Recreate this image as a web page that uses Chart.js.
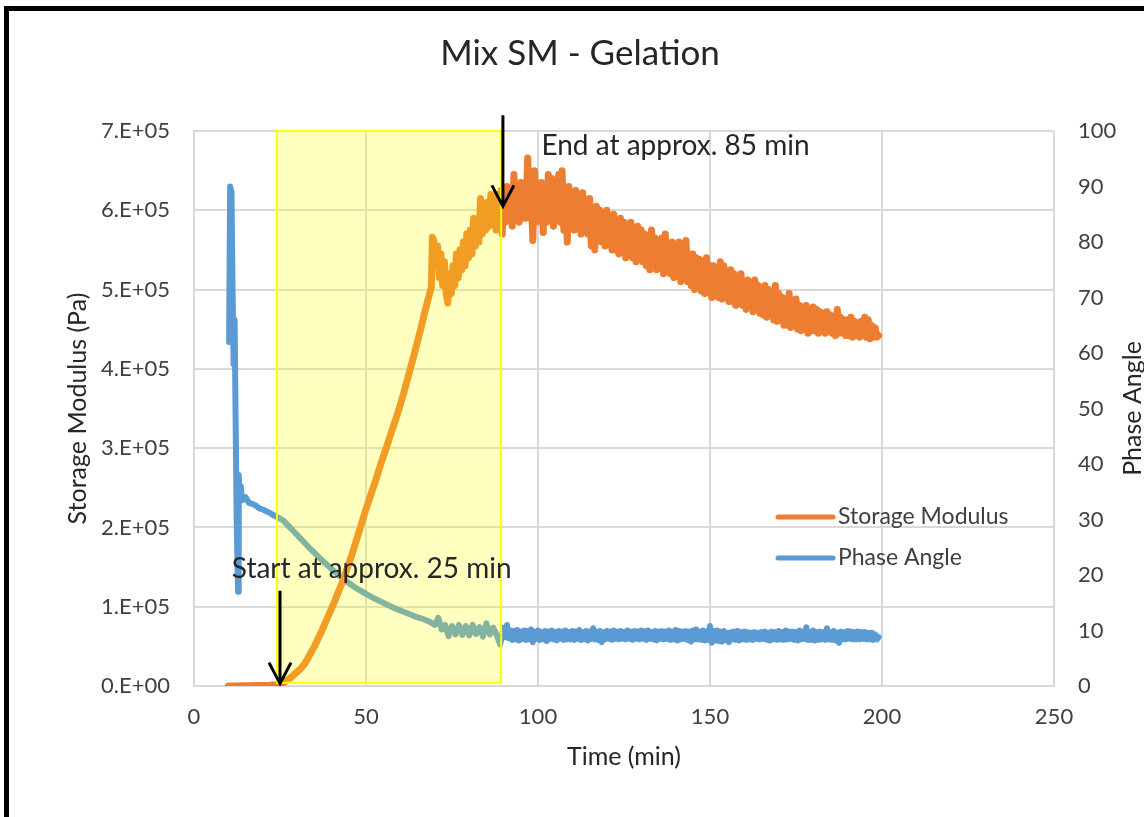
<!DOCTYPE html>
<html>
<head>
<meta charset="utf-8">
<title>Mix SM - Gelation</title>
<script src="https://cdn.jsdelivr.net/npm/chart.js@4.4.1/dist/chart.umd.min.js"></script>
<style>
  html, body { margin: 0; padding: 0; background: #fff; }
  #wrap { position: relative; width: 1144px; height: 817px; overflow: hidden; }
  #frame { position: absolute; left: 4px; top: 6px; right: -20px; bottom: -20px;
           border-left: 5px solid #000; border-top: 5px solid #000; }
  #chart { position: absolute; left: 0; top: 0; }
</style>
</head>
<body>
<div id="wrap">
  <div id="frame"></div>
  <canvas id="chart" width="1144" height="817"></canvas>
</div>
<script>
// storage modulus up to the end of gelation, time in min, value in units of 1e5 Pa
const modHeadTime = [
  10, 12, 14, 16, 18, 20, 22, 24, 25, 26, 27, 28, 29, 30, 31, 32, 33, 34, 35, 36,
  37, 38, 39, 40, 41, 42, 43, 44, 45, 46, 47, 48, 49, 50, 51, 52, 53, 54, 55, 56,
  57, 58, 59, 60, 61, 62, 63, 64, 65, 66, 67, 68, 69,
  69.3, 69.8, 70.3, 70.8, 71.3, 71.8, 72.3, 72.8, 73.3, 73.8, 74.3, 74.8, 75.3, 75.8,
  76.3, 76.8, 77.3, 77.8, 78.3, 78.8, 79.3, 79.8, 80.3, 80.8, 81.3, 81.8, 82.3, 82.8,
  83.3, 83.8, 84.3, 84.8, 85.3, 85.8, 86.3, 86.8, 87.3, 87.8, 88.3, 88.8, 89.3, 89.6
];
const modHeadValue = [
  0, 0, 0.002, 0.003, 0.005, 0.007, 0.01, 0.015, 0.02, 0.04, 0.07, 0.1, 0.14, 0.18, 0.22, 0.27, 0.34, 0.42, 0.5, 0.59,
  0.68, 0.78, 0.88, 0.98, 1.08, 1.19, 1.3, 1.42, 1.54, 1.67, 1.81, 1.95, 2.09, 2.23, 2.36, 2.49, 2.62, 2.76, 2.89, 3.02,
  3.15, 3.28, 3.41, 3.55, 3.7, 3.86, 4.02, 4.18, 4.35, 4.52, 4.7, 4.87, 5.03,
  5.66, 5.6, 5.3, 5.55, 5.15, 5.45, 5.05, 5.35, 4.95, 4.83, 5.2, 4.95, 5.3, 5.05,
  5.45, 5.15, 5.5, 5.25, 5.6, 5.3, 5.7, 5.4, 5.75, 5.45, 5.9, 5.55, 5.85, 5.6,
  6.15, 5.7, 6.0, 5.75, 6.1, 5.8, 6.2, 5.9, 6.1, 5.75, 6.2, 5.95, 6.25, 5.7
];

// phase angle up to the end of gelation, degrees
const phaseHeadTime = [
  10.2, 10.5, 10.9, 11.2, 11.5, 11.8, 12.1, 12.4, 12.8, 13.0, 13.3, 13.6, 14, 15, 16, 17, 18, 19, 20, 21,
  22, 23, 24, 26, 28, 30, 32, 34, 36, 38, 40, 42, 44, 46, 48, 50, 52, 54, 56, 58,
  60, 62, 64, 66, 68, 69, 70, 71, 72, 73, 74, 75, 76, 77, 78, 79, 80, 81, 82, 83,
  84, 85, 86, 87, 88, 89, 89.5
];
const phaseHeadValue = [
  62, 90, 89, 72, 58, 66, 48, 30, 17, 38, 34, 36, 33.5, 34, 33, 32.8, 32.5, 32, 31.8, 31.5,
  31.2, 30.8, 30.5, 29.8, 28.5, 27.2, 25.9, 24.6, 23.4, 22.2, 21.1, 20.0, 19.0, 18.1, 17.3, 16.6, 15.9, 15.3, 14.7, 14.1,
  13.6, 13.1, 12.6, 12.2, 11.7, 11.4, 11.0, 12.3, 10.2, 11.0, 9.0, 10.8, 9.3, 11.0, 9.2, 10.8, 9.1, 11.0, 9.4, 10.6,
  8.9, 11.3, 9.3, 10.5, 9.2, 7.5, 9.0
];

// after gelation both signals are sampled every half minute
const tailTime = [
  90, 90.5, 91, 91.5, 92, 92.5, 93, 93.5, 94, 94.5, 95, 95.5, 96, 96.5, 97, 97.5, 98, 98.5, 99, 99.5,
  100, 100.5, 101, 101.5, 102, 102.5, 103, 103.5, 104, 104.5, 105, 105.5, 106, 106.5, 107, 107.5, 108, 108.5, 109, 109.5,
  110, 110.5, 111, 111.5, 112, 112.5, 113, 113.5, 114, 114.5, 115, 115.5, 116, 116.5, 117, 117.5, 118, 118.5, 119, 119.5,
  120, 120.5, 121, 121.5, 122, 122.5, 123, 123.5, 124, 124.5, 125, 125.5, 126, 126.5, 127, 127.5, 128, 128.5, 129, 129.5,
  130, 130.5, 131, 131.5, 132, 132.5, 133, 133.5, 134, 134.5, 135, 135.5, 136, 136.5, 137, 137.5, 138, 138.5, 139, 139.5,
  140, 140.5, 141, 141.5, 142, 142.5, 143, 143.5, 144, 144.5, 145, 145.5, 146, 146.5, 147, 147.5, 148, 148.5, 149, 149.5,
  150, 150.5, 151, 151.5, 152, 152.5, 153, 153.5, 154, 154.5, 155, 155.5, 156, 156.5, 157, 157.5, 158, 158.5, 159, 159.5,
  160, 160.5, 161, 161.5, 162, 162.5, 163, 163.5, 164, 164.5, 165, 165.5, 166, 166.5, 167, 167.5, 168, 168.5, 169, 169.5,
  170, 170.5, 171, 171.5, 172, 172.5, 173, 173.5, 174, 174.5, 175, 175.5, 176, 176.5, 177, 177.5, 178, 178.5, 179, 179.5,
  180, 180.5, 181, 181.5, 182, 182.5, 183, 183.5, 184, 184.5, 185, 185.5, 186, 186.5, 187, 187.5, 188, 188.5, 189, 189.5,
  190, 190.5, 191, 191.5, 192, 192.5, 193, 193.5, 194, 194.5, 195, 195.5, 196, 196.5, 197, 197.5, 198, 198.5, 199
];
const modTailValue = [
  6.25, 5.85, 6.3, 5.9, 6.2, 5.8, 6.45, 5.95, 6.3, 5.85, 6.35, 5.9, 6.2, 5.9, 6.66, 5.95, 6.25, 5.62, 6.5, 5.85,
  6.3, 5.9, 6.35, 5.72, 6.25, 5.85, 6.45, 5.95, 6.4, 5.8, 6.3, 5.9, 6.45, 5.85, 6.5, 5.75, 6.2, 5.6, 6.3, 5.8,
  6.15, 5.75, 6.25, 5.8, 6.2, 5.7, 6.22, 5.75, 6.1, 5.7, 6.15, 5.55, 6.0, 5.5, 6.05, 5.65, 6.0, 5.6, 5.95, 5.55,
  6.0, 5.6, 5.9, 5.5, 5.95, 5.5, 5.85, 5.45, 5.9, 5.5, 5.85, 5.4, 5.8, 5.45, 5.85, 5.4, 5.75, 5.35, 5.8, 5.4,
  5.75, 5.35, 5.7, 5.3, 5.65, 5.25, 5.75, 5.3, 5.65, 5.25, 5.6, 5.3, 5.65, 5.2, 5.7, 5.25, 5.55, 5.2, 5.6, 5.15,
  5.55, 5.2, 5.6, 5.1, 5.5, 5.15, 5.62, 5.1, 5.45, 5.05, 5.45, 5.0, 5.4, 5.05, 5.38, 4.98, 5.35, 4.95, 5.4, 5.0,
  5.3, 4.9, 5.3, 4.95, 5.25, 4.9, 5.35, 4.88, 5.3, 4.9, 5.2, 4.85, 5.25, 4.85, 5.2, 4.8, 5.15, 4.82, 5.2, 4.8,
  5.1, 4.75, 5.12, 4.78, 5.05, 4.72, 5.12, 4.75, 5.05, 4.7, 5.0, 4.68, 5.05, 4.65, 5.0, 4.7, 4.95, 4.62, 5.05, 4.6,
  4.95, 4.62, 4.9, 4.55, 4.85, 4.55, 4.95, 4.52, 4.85, 4.55, 4.88, 4.5, 4.8, 4.48, 4.78, 4.5, 4.8, 4.45, 4.75, 4.48,
  4.78, 4.48, 4.75, 4.45, 4.72, 4.48, 4.7, 4.45, 4.72, 4.48, 4.68, 4.45, 4.65, 4.42, 4.75, 4.45, 4.65, 4.45, 4.62, 4.42,
  4.62, 4.42, 4.65, 4.4, 4.6, 4.42, 4.58, 4.4, 4.6, 4.42, 4.65, 4.4, 4.62, 4.38, 4.55, 4.4, 4.52, 4.4, 4.42
];
const phaseTailValue = [
  10.5, 8.8, 11.0, 8.6, 10.0, 8.3, 9.9, 8.4, 10.1, 8.2, 9.8, 8.5, 10.0, 8.3, 9.9, 8.4, 10.2, 7.9, 9.8, 8.5,
  10.0, 8.3, 9.7, 8.4, 9.9, 8.1, 9.8, 8.5, 10.0, 8.4, 9.7, 8.2, 9.9, 8.5, 9.8, 8.3, 10.0, 8.4, 9.7, 8.4,
  9.9, 8.3, 9.8, 8.5, 10.1, 8.3, 9.7, 8.4, 9.9, 8.2, 9.8, 8.5, 10.4, 8.4, 9.8, 8.3, 9.9, 7.9, 9.7, 8.4,
  9.9, 8.5, 9.8, 8.3, 10.0, 8.5, 9.8, 8.4, 9.9, 8.5, 9.7, 8.4, 10.0, 8.5, 9.8, 8.3, 9.9, 8.5, 9.8, 8.4,
  10.0, 8.5, 9.9, 8.3, 10.0, 8.5, 9.7, 8.4, 9.9, 8.2, 9.8, 8.5, 9.9, 8.4, 9.8, 8.5, 10.0, 8.3, 9.8, 8.4,
  10.1, 8.2, 9.9, 8.4, 9.8, 8.5, 9.9, 8.3, 9.8, 8.0, 10.0, 8.4, 10.2, 8.4, 9.8, 8.3, 10.0, 8.2, 9.8, 8.3,
  10.8, 7.8, 9.9, 8.2, 10.0, 8.1, 9.8, 8.0, 9.9, 8.3, 9.6, 7.9, 9.7, 8.4, 9.8, 8.3, 9.9, 8.2, 9.7, 8.4,
  9.8, 8.3, 9.7, 8.4, 9.6, 8.3, 9.7, 8.5, 9.6, 8.4, 9.7, 8.5, 9.8, 8.3, 9.6, 8.2, 9.8, 8.4, 9.7, 8.3,
  9.9, 8.4, 9.7, 8.3, 10.0, 8.4, 9.8, 8.5, 9.8, 8.3, 9.7, 8.2, 10.0, 8.4, 9.8, 8.5, 10.6, 8.3, 9.8, 8.3,
  10.0, 8.2, 9.7, 8.3, 9.8, 8.4, 9.7, 8.3, 10.4, 8.4, 9.7, 8.3, 9.9, 8.2, 9.6, 7.8, 9.8, 8.4, 9.7, 8.4,
  9.9, 8.5, 9.8, 8.4, 9.7, 8.4, 9.8, 8.4, 9.7, 8.5, 9.7, 8.4, 9.6, 8.4, 9.6, 8.3, 9.3, 8.4, 8.8
];

// gelation window and its markers (time in min, modulus in 1e5 Pa)
const gelStart = 24.1;
const gelEnd = 89.3;
const gelTop = 7.0;
const gelBottom = 0.04;
const startArrow = { t: 25, from: 1.2, to: 0.03 };
const endArrow = { t: 89.8, from: 7.2, to: 6.05 };
const startNote = { t: 11, v: 1.47, text: 'Start at approx. 25 min' };
const endNote = { t: 101, v: 6.81, text: 'End at approx. 85 min' };

const FONT = 'Lato, "Open Sans", sans-serif';
const ORANGE = '#ED7D31';
const BLUE = '#5B9BD5';

const toPts = (ts, vs, k) => ts.map((t, i) => ({ x: t, y: vs[i] * k }));

function sciLabel(v) {
  return v === 0 ? '0.E+00' : Math.round(v / 1e5) + '.E+05';
}

// translucent yellow window + arrows + notes, drawn over the lines
const gelWindow = {
  id: 'gelWindow',
  afterDatasetsDraw(chart) {
    const { ctx, scales: { x, y } } = chart;
    const l = x.getPixelForValue(gelStart), r = x.getPixelForValue(gelEnd);
    const t = y.getPixelForValue(gelTop * 1e5), b = y.getPixelForValue(gelBottom * 1e5);
    ctx.save();
    ctx.fillStyle = 'rgba(255, 255, 0, 0.25)';
    ctx.fillRect(l, t, r - l, b - t);
    ctx.strokeStyle = '#FFFF00';
    ctx.lineWidth = 2;
    ctx.strokeRect(l, t, r - l, b - t);

    ctx.strokeStyle = '#000';
    ctx.lineWidth = 3;
    ctx.lineCap = 'butt';
    [startArrow, endArrow].forEach(a => {
      const ax = x.getPixelForValue(a.t);
      const y0 = y.getPixelForValue(a.from * 1e5);
      const y1 = y.getPixelForValue(a.to * 1e5);
      ctx.beginPath();
      ctx.moveTo(ax, y0);
      ctx.lineTo(ax, y1);
      ctx.moveTo(ax - 11, y1 - 21);
      ctx.lineTo(ax, y1);
      ctx.lineTo(ax + 11, y1 - 21);
      ctx.stroke();
    });

    ctx.fillStyle = '#262626';
    ctx.font = '28px ' + FONT;
    ctx.textAlign = 'left';
    ctx.textBaseline = 'middle';
    [startNote, endNote].forEach(n => {
      ctx.fillText(n.text, x.getPixelForValue(n.t), y.getPixelForValue(n.v * 1e5));
    });
    ctx.restore();
  }
};

// legend inside the plot, plus the right-hand axis title
const sideText = {
  id: 'sideText',
  afterDraw(chart) {
    const { ctx, chartArea } = chart;
    ctx.save();
    ctx.font = '23px ' + FONT;
    ctx.textBaseline = 'middle';
    ctx.fillStyle = '#404040';
    chart.data.datasets.forEach((ds, i) => {
      const ly = chartArea.top + 386 + i * 41;
      const lx = chartArea.left + 584;
      ctx.strokeStyle = ds.borderColor;
      ctx.lineWidth = 5;
      ctx.lineCap = 'round';
      ctx.beginPath();
      ctx.moveTo(lx, ly);
      ctx.lineTo(lx + 55, ly);
      ctx.stroke();
      ctx.fillText(ds.label, lx + 60, ly);
    });

    const y1 = chart.scales.y1;
    ctx.font = '25px ' + FONT;
    ctx.translate(y1.right - 11, (chartArea.top + chartArea.bottom) / 2);
    ctx.rotate(-Math.PI / 2);
    ctx.textAlign = 'center';
    ctx.fillStyle = '#262626';
    ctx.fillText('Phase Angle', 0, 0);
    ctx.restore();
  }
};

const gridCol = '#D9D9D9';
const tickFont = { family: FONT, size: 22 };

new Chart(document.getElementById('chart'), {
  type: 'scatter',
  data: {
    datasets: [
      {
        label: 'Storage Modulus',
        data: toPts(modHeadTime, modHeadValue, 1e5).concat(toPts(tailTime, modTailValue, 1e5)),
        yAxisID: 'y',
        borderColor: ORANGE,
        backgroundColor: ORANGE,
        borderWidth: 7,
        showLine: true,
        pointRadius: 0,
        borderCapStyle: 'round',
        borderJoinStyle: 'round'
      },
      {
        label: 'Phase Angle',
        data: toPts(phaseHeadTime, phaseHeadValue, 1).concat(toPts(tailTime, phaseTailValue, 1)),
        yAxisID: 'y1',
        borderColor: BLUE,
        backgroundColor: BLUE,
        borderWidth: 6,
        showLine: true,
        pointRadius: 0,
        borderCapStyle: 'round',
        borderJoinStyle: 'round'
      }
    ]
  },
  options: {
    responsive: false,
    animation: false,
    layout: { padding: { left: 16, right: 0, top: 0, bottom: 0 } },
    plugins: {
      legend: { display: false },
      tooltip: { enabled: false },
      title: {
        display: true,
        text: 'Mix SM - Gelation',
        color: '#262626',
        font: { family: FONT, size: 35, weight: 'normal' },
        padding: { top: 33, bottom: 56 }
      }
    },
    scales: {
      x: {
        type: 'linear',
        min: 0,
        max: 250,
        ticks: { stepSize: 50, color: '#404040', font: tickFont, padding: 18 },
        grid: { color: gridCol, lineWidth: 2, drawTicks: false },
        border: { display: true, color: gridCol, width: 2 },
        title: {
          display: true,
          text: 'Time (min)',
          color: '#262626',
          font: { family: FONT, size: 25 },
          padding: { top: 0, bottom: 45 }
        },
        afterFit(s) { s.height = 131; }
      },
      y: {
        position: 'left',
        min: 0,
        max: 7e5,
        ticks: { stepSize: 1e5, color: '#404040', font: tickFont, padding: 24, callback: sciLabel },
        grid: { color: gridCol, lineWidth: 2, drawTicks: false },
        border: { display: true, color: gridCol, width: 2 },
        title: {
          display: true,
          text: 'Storage Modulus (Pa)',
          color: '#262626',
          font: { family: FONT, size: 25 },
          padding: { top: 47, bottom: 0 }
        },
        afterFit(s) { s.width = 178; }
      },
      y1: {
        position: 'right',
        min: 0,
        max: 100,
        ticks: { stepSize: 10, color: '#404040', font: tickFont, padding: 24 },
        grid: { drawOnChartArea: false, drawTicks: false },
        border: { display: false },
        afterFit(s) { s.width = 90; }
      }
    }
  },
  plugins: [gelWindow, sideText]
});
</script>
</body>
</html>
